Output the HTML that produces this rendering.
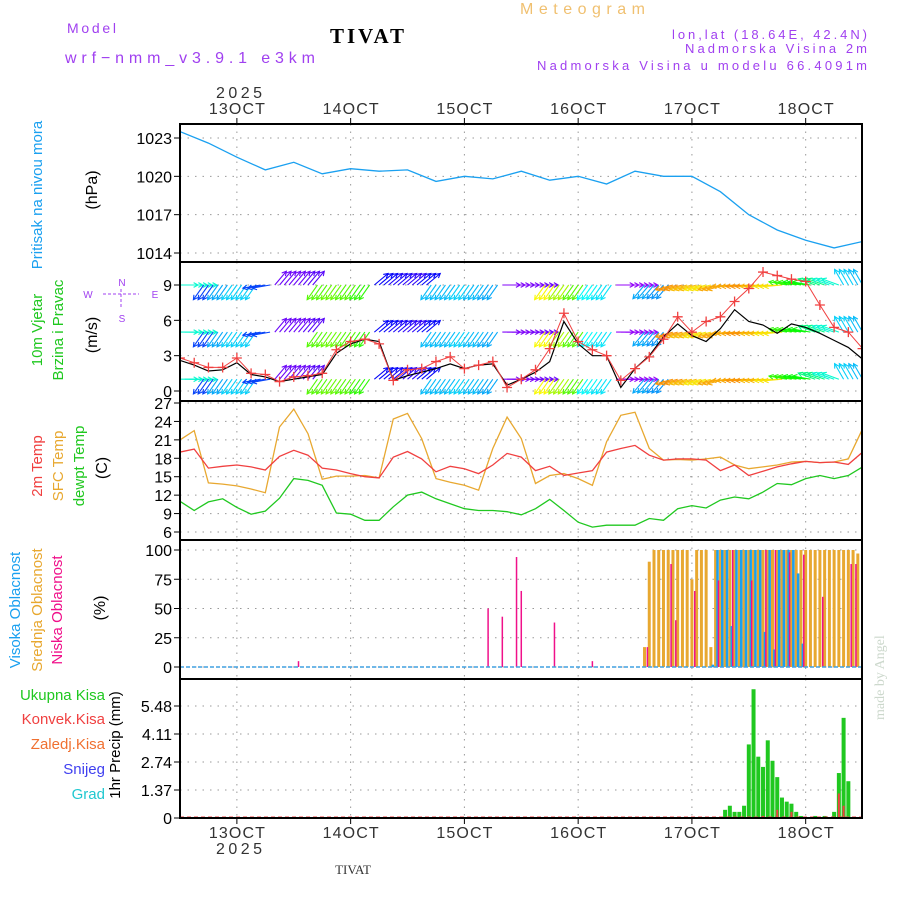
<!DOCTYPE html>
<html><head><meta charset="utf-8"><style>
body{margin:0;background:#fff;}
svg{display:block;font-family:"Liberation Sans",sans-serif;}
</style></head><body>
<svg id="c" width="900" height="900" viewBox="0 0 900 900">
<text x="67" y="33" font-size="14" fill="#a040f0" textLength="49" lengthAdjust="spacing">Model</text>
<text x="65" y="63" font-size="16" fill="#a040f0" textLength="250" lengthAdjust="spacing">wrf−nmm_v3.9.1 e3km</text>
<text x="330" y="43" font-size="21" font-weight="bold" font-family="Liberation Serif,serif" fill="#000" textLength="74">TIVAT</text>
<text x="520" y="14" font-size="16" fill="#f0c070" textLength="125" lengthAdjust="spacing">Meteogram</text>
<text x="672" y="39" font-size="13" fill="#a040f0" textLength="195" lengthAdjust="spacing">lon,lat (18.64E, 42.4N)</text>
<text x="685" y="53" font-size="13" fill="#a040f0" textLength="182" lengthAdjust="spacing">Nadmorska Visina 2m</text>
<text x="537" y="70" font-size="13" fill="#a040f0" textLength="330" lengthAdjust="spacing">Nadmorska Visina u modelu 66.4091m</text>
<text x="216" y="98" font-size="16" fill="#333" textLength="46" lengthAdjust="spacing">2025</text>
<text x="216" y="854" font-size="16" fill="#333" textLength="46" lengthAdjust="spacing">2025</text>
<text x="353" y="874" font-size="13" fill="#333" text-anchor="middle" font-family="Liberation Serif,serif">TIVAT</text>
<text transform="translate(884,720) rotate(-90)" font-size="14" fill="#ccd8cc" font-family="Liberation Serif,serif">made by Angel</text>
<g id="lbl" font-size="14"></g>
<g id="plot"></g>
</svg>
<script>
// ---------- data ----------
const days=['13OCT','14OCT','15OCT','16OCT','17OCT','18OCT'];
const presTicks=[1014,1017,1020,1023];
const windTicks=[0,3,6,9];
const tempTicks=[6,9,12,15,18,21,24,27];
const cloudTicks=[0,25,50,75,100];
const precTicks=[0,1.37,2.74,4.11,5.48];
// pressure every 6h from 12OCT 12Z
const pressure=[1023.5,1022.6,1021.5,1020.5,1021.1,1020.2,1020.6,1020.4,1020.5,1019.6,1020.0,1019.8,1020.4,1019.7,1020.0,1019.4,1020.4,1020.0,1020.0,1018.8,1017.0,1015.8,1015.0,1014.4,1014.9];
// 3-hourly series from 12OCT 12Z
const windSpeed=[2.8,2.4,2.0,2.0,2.8,1.5,1.4,0.8,1.2,1.3,1.5,3.5,4.2,4.4,4.0,0.9,1.8,1.9,2.5,2.9,1.9,2.2,2.5,0.3,1.0,1.8,3.6,6.6,4.2,3.5,3.0,0.9,1.9,2.9,4.4,6.3,5.0,5.9,6.3,7.6,8.7,10.1,9.8,9.5,9.3,7.3,5.4,5.0,3.6];
const windMean=[2.6,2.2,1.7,1.8,2.4,1.4,1.2,0.8,1.0,1.2,1.4,3.2,4.0,4.4,4.2,0.9,1.3,1.6,1.9,2.3,1.9,2.2,2.3,0.5,1.0,1.6,2.5,5.9,4.0,3.0,3.0,0.3,1.9,3.0,4.6,5.7,4.7,4.2,5.3,6.9,5.9,5.6,4.9,5.7,5.4,4.9,4.3,3.7,2.7];
const windDir=[0,0,125,125,125,125,170,-50,-50,-50,125,125,125,125,-40,-40,-40,-40,125,125,125,125,125,0,0,0,125,125,125,125,125,0,0,130,130,165,165,165,165,175,175,175,175,190,190,200,200,240,240];
const windHue=[170,170,225,200,190,190,225,265,265,260,100,95,100,110,240,245,250,240,195,195,190,195,200,270,270,265,60,80,100,180,185,275,275,200,205,35,45,55,40,40,35,45,55,110,120,150,170,190,195];
const temp2m=[19.0,19.5,16.4,16.7,16.9,16.6,16.1,18.3,19.3,18.5,16.4,16.1,15.5,15.0,14.8,18.2,19.1,17.9,15.8,16.7,16.3,15.5,16.9,18.8,18.2,16.0,16.7,15.2,15.6,16.0,19.0,19.6,20.1,18.5,17.7,17.9,17.9,17.7,16.0,16.9,15.2,15.9,16.6,17.1,17.5,17.3,17.4,17.0,19.0];
const tempSfc=[21.0,22.5,14.0,13.8,13.5,13.0,12.4,23.1,26.0,22.0,14.6,15.1,15.1,15.2,14.8,24.4,25.3,21.2,14.7,14.1,13.6,12.8,19.6,24.7,21.2,13.9,15.2,15.5,14.7,13.6,20.7,25.0,25.5,19.6,17.7,17.8,17.7,17.9,18.2,16.9,16.3,16.6,16.9,17.4,17.5,17.3,17.4,17.9,22.8];
const tempDew=[11.0,9.5,10.9,11.4,10.0,8.9,9.4,11.5,14.7,14.4,13.6,9.1,8.9,7.9,7.9,10.1,12.0,12.5,11.4,10.6,9.8,9.5,9.5,9.3,8.8,9.8,11.3,9.5,7.6,6.8,7.1,7.1,7.1,8.2,7.9,9.8,10.3,9.9,11.2,11.7,11.4,12.5,13.9,13.7,14.7,15.2,14.7,15.2,16.6];
// clouds hourly from hour 98 (after 12OCT 12Z)
const cloudStart=98;
const midCloud=[17,90,100,100,100,100,100,100,100,100,75,100,100,100,17,100,100,100,100,100,100,100,100,100,100,100,100,100,100,100,100,100,100,100,100,100,100,100,100,100,100,100,100,100,100,97,5];
const highCloud=[0,0,0,0,0,0,0,0,0,0,0,0,0,0,2,100,100,100,35,100,100,100,100,100,100,30,100,15,100,100,100,100,80,20,0,0,0,0,0,0,0,0,0,0,0,0,0];
const lowCloud=[0,17,0,0,0,0,88,40,0,0,0,65,0,0,0,0,74,0,0,100,0,0,0,74,0,0,100,0,100,0,0,98,0,0,96,0,0,0,60,0,0,0,0,0,88,88,0];
const lowEventHours=[25,65,68,71,72,79,87];
const lowEventVals=[5,50,43,94,65,38,5];
// precip hourly from hour 115
const precStart=115;
const precTotal=[0.4,0.6,0.3,0.3,0.6,3.6,6.3,3.0,2.5,3.8,2.8,2.0,1.0,0.8,0.7,0.3,0.1,0,0,0.1,0,0.1,0,0.3,2.2,4.9,1.8];
const precConv=[0,0,0,0,0,0,0,0,0.1,0,0,0.4,0,0,0.3,0,0,0,0,0,0,0,0,0,1.2,0.6,0];
// ---------- helpers ----------
const NS='http://www.w3.org/2000/svg';
const plot=document.getElementById('plot'),lbl=document.getElementById('lbl');
function el(tag,at,parent){const e=document.createElementNS(NS,tag);for(const k in at)e.setAttribute(k,at[k]);(parent||plot).appendChild(e);return e;}
const X0=180,X1=862,PPH=4.74;
const xH=h=>X0+h*PPH;
const panels=[{t:124,b:262},{t:262,b:401},{t:401,b:540},{t:540,b:679},{t:679,b:818}];
const yP=v=>253-(v-1014)*(115/9);
const yW=v=>391-v*(106/9);
const yT=v=>532-(v-6)*(129/21);
const yC=v=>667-v*1.17;
const yR=v=>818-v*(112/5.48);
const defs=el('defs',{});
const cp=el('clipPath',{id:'clip'},defs);el('rect',{x:X0,y:0,width:X1-X0,height:900},cp);
function grid(p,ticks,fy,fmt,name){
  days.forEach((d,i)=>{const x=xH(24*(i+1)-12);
    const g=el('line',{x1:x,x2:x,y1:p.t,y2:p.b,stroke:'#999','stroke-dasharray':'1.5,6'});
    });
  ticks.forEach(t=>{const y=fy(t);
    const g=el('line',{x1:X0,x2:X1,y1:y,y2:y,stroke:'#999','stroke-dasharray':'1.5,6'});
    
    el('line',{x1:X0-6,x2:X0,y1:y,y2:y,stroke:'#000'});
    const tx=el('text',{x:X0-8,y:y+6,'font-size':16,'text-anchor':'end',fill:'#000'});
    tx.textContent=fmt(t);
    });
}
grid(panels[0],presTicks,yP,t=>t,'pressure');
grid(panels[1],windTicks,yW,t=>t,'wind');
grid(panels[2],tempTicks,yT,t=>t,'temp');
grid(panels[3],cloudTicks,yC,t=>t,'cloud');
grid(panels[4],precTicks,yR,t=>t===0?'0':t.toFixed(2),'precip');
days.forEach((d,i)=>{const x=xH(24*(i+1)-12);
  const a=el('text',{x:x-28,y:114,'font-size':16,fill:'#333',textLength:56,lengthAdjust:'spacing'});a.textContent=d;
  
  const b=el('text',{x:x-28,y:838,'font-size':16,fill:'#333',textLength:56,lengthAdjust:'spacing'});b.textContent=d;
  
  el('line',{x1:x,x2:x,y1:118,y2:124,stroke:'#000'});el('line',{x1:x,x2:x,y1:818,y2:824,stroke:'#000'});
});
const cg=el('g',{'clip-path':'url(#clip)'});
function poly(vals,step,fy,color,name,w){
  const pts=vals.map((v,i)=>xH(i*step).toFixed(1)+','+fy(v).toFixed(1)).join(' ');
  const p=el('polyline',{points:pts,fill:'none',stroke:color,'stroke-width':w||1.3},cg);
  return p;}
poly(pressure,6,yP,'#1aa0f0','pressure-line');
// wind arrows, hourly, 3 rows
[9,5,1].forEach(lev=>{
  for(let h=0;h<=144;h++){
    const i=Math.min(windDir.length-1,Math.round(h/3));const a=windDir[i];
    const x=xH(h),y=yW(lev);const L=18,rad=a*Math.PI/180;
    const x2=x+L*Math.cos(rad),y2=y+L*Math.sin(rad);
    const c='hsl('+windHue[i]+',95%,50%)';
    const ar=el('line',{x1:x,y1:y,x2:x2,y2:y2,stroke:c,'stroke-width':1.1},cg);
    
    const ang=Math.atan2(y2-y,x2-x);
    el('polyline',{points:(x2-5*Math.cos(ang-0.5))+','+(y2-5*Math.sin(ang-0.5))+' '+x2+','+y2+' '+(x2-5*Math.cos(ang+0.5))+','+(y2-5*Math.sin(ang+0.5)),fill:'none',stroke:c,'stroke-width':1.1},cg);
  }
});
poly(windMean,3,yW,'#000','wind-mean-line',1.2);
poly(windSpeed,3,yW,'#f04040','wind-gust-line',1);
windSpeed.forEach((v,i)=>{const x=xH(i*3),y=yW(v);
  const m=el('path',{d:`M${x-5},${y}h10M${x},${y-5}v10`,stroke:'#f04040','stroke-width':1.3},cg);
  });
poly(tempSfc,3,yT,'#e8a830','sfc-temp-line');
poly(temp2m,3,yT,'#f04040','temp-2m-line');
poly(tempDew,3,yT,'#20c820','dewpoint-line');
el('line',{x1:X0,x2:X1,y1:yC(0),y2:yC(0),stroke:'#40a0e0','stroke-width':1.5,'stroke-dasharray':'4,2'});
function cbar(h,v,color,w,name){if(!v)return;const x=xH(h);
  const b=el('rect',{x:x-w/2,y:yC(v),width:w,height:yC(0)-yC(v),fill:color},cg);
  }
midCloud.forEach((v,i)=>cbar(cloudStart+i,v,'#e8a830',3,'mid-cloud-bar'));
highCloud.forEach((v,i)=>cbar(cloudStart+i+0.4,v,'#1aa0f0',2.5,'high-cloud-bar'));
lowCloud.forEach((v,i)=>cbar(cloudStart+i-0.4,v,'#f0108a',1.5,'low-cloud-bar'));
lowEventHours.forEach((h,i)=>cbar(h,lowEventVals[i],'#f0108a',1.5,'low-cloud-bar'));
el('line',{x1:X0,x2:X1,y1:817,y2:817,stroke:'#f04040','stroke-width':1,'stroke-dasharray':'4,3'});
precTotal.forEach((v,i)=>{if(!v)return;const x=xH(precStart+i);
  const b=el('rect',{x:x-2,y:yR(v),width:4,height:818-yR(v),fill:'#20c820'},cg);
  });
precConv.forEach((v,i)=>{if(!v)return;const x=xH(precStart+i);
  const b=el('rect',{x:x-1,y:yR(v),width:2,height:818-yR(v),fill:'#f04040'},cg);
  });
panels.forEach((p,i)=>{const r=el('rect',{x:X0,y:p.t,width:X1-X0,height:p.b-p.t,fill:'none',stroke:'#000','stroke-width':2});
  });
function vt(x,y,t,c,name,fs){const e=el('text',{transform:`translate(${x},${y}) rotate(-90)`,'text-anchor':'middle',fill:c,'font-size':fs||15},lbl);e.textContent=t;
  }
vt(42,195,'Pritisak na nivou mora','#1aa0f0','pressure-title');
vt(97,190,'(hPa)','#000','pressure-unit',16);
vt(42,330,'10m Vjetar','#20c820','wind-title');
vt(63,330,'Brzina i Pravac','#20c820','wind-subtitle');
vt(97,335,'(m/s)','#000','wind-unit',16);
vt(42,466,'2m Temp','#f04040','temp-2m-title');
vt(63,466,'SFC Temp','#e8a830','sfc-temp-title');
vt(84,466,'dewpt Temp','#20c820','dewpoint-title');
vt(107,468,'(C)','#000','temp-unit',16);
vt(20,610,'Visoka Oblacnost','#1aa0f0','high-cloud-title');
vt(42,610,'Srednja Oblacnost','#e8a830','mid-cloud-title');
vt(62,610,'Niska Oblacnost','#f0108a','low-cloud-title');
vt(105,608,'(%)','#000','cloud-unit',16);
vt(120,745,'1hr Precip (mm)','#000','precip-title',15);
[['Ukupna Kisa','#20c820',700],['Konvek.Kisa','#f04040',724],['Zaledj.Kisa','#f07030',749],['Snijeg','#4040f0',774],['Grad','#20c8d0',799]].forEach(a=>{
  const e=el('text',{x:105,y:a[2],'text-anchor':'end',fill:a[1],'font-size':15},lbl);e.textContent=a[0];
  });
[['N',122,286],['W',88,298],['E',155,298],['S',122,322]].forEach(a=>{const e=el('text',{x:a[1],y:a[2],'font-size':10,fill:'#a040f0','text-anchor':'middle'},lbl);e.textContent=a[0];
  });
el('path',{d:'M103,294h36M121,289v20',stroke:'#a040f0','stroke-dasharray':'3,2',fill:'none'},lbl);
</script>
</body></html>
